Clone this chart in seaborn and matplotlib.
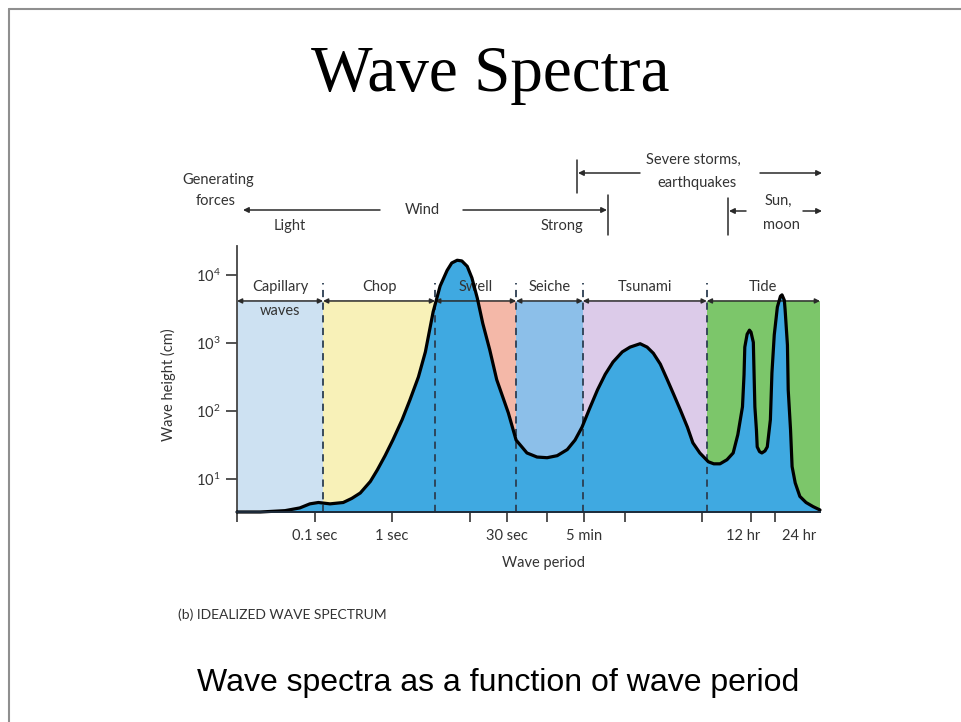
import matplotlib
matplotlib.use('Agg')
import matplotlib.pyplot as plt
import numpy as np
import pandas as pd
import seaborn as sns
from matplotlib.lines import Line2D
from matplotlib.patches import FancyArrowPatch
from matplotlib.ticker import NullLocator

# Idealized spectrum: log10(period, s) and log10(height, cm)
log_period = [-2.00, -1.70, -1.38, -1.19, -1.06, -0.95, -0.80, -0.63, -0.52, -0.41,
              -0.28, -0.19, -0.09, 0.01, 0.13, 0.23, 0.34, 0.43, 0.53, 0.62,
              0.71, 0.77, 0.84, 0.90, 0.97, 1.03, 1.10, 1.17, 1.26, 1.35,
              1.50, 1.60, 1.74, 1.87, 2.00, 2.13, 2.26, 2.36, 2.45, 2.55,
              2.65, 2.75, 2.85, 2.97, 3.07, 3.20, 3.29, 3.37, 3.46, 3.55,
              3.63, 3.72, 3.81, 3.88, 3.97, 4.08, 4.15, 4.23, 4.32, 4.40,
              4.46, 4.52, 4.54, 4.55, 4.58, 4.61, 4.63, 4.66, 4.67, 4.68,
              4.70, 4.71, 4.74, 4.77, 4.81, 4.84, 4.88, 4.90, 4.93, 4.97,
              5.01, 5.03, 5.06, 5.07, 5.10, 5.11, 5.14, 5.16, 5.20, 5.26,
              5.34, 5.43, 5.52]
log_height = [0.51, 0.51, 0.53, 0.57, 0.63, 0.65, 0.63, 0.65, 0.71, 0.79,
              0.96, 1.13, 1.34, 1.57, 1.87, 2.16, 2.50, 2.87, 3.46, 3.84,
              4.07, 4.18, 4.22, 4.21, 4.13, 3.96, 3.66, 3.29, 2.90, 2.46,
              1.97, 1.57, 1.38, 1.32, 1.31, 1.34, 1.43, 1.57, 1.76, 2.04,
              2.31, 2.54, 2.72, 2.87, 2.94, 2.99, 2.94, 2.85, 2.69, 2.46,
              2.25, 2.01, 1.76, 1.53, 1.38, 1.25, 1.22, 1.22, 1.28, 1.38,
              1.65, 2.06, 2.53, 2.94, 3.13, 3.19, 3.16, 3.01, 2.53, 2.06,
              1.72, 1.47, 1.40, 1.38, 1.41, 1.47, 1.87, 2.56, 3.12, 3.53,
              3.69, 3.71, 3.63, 3.49, 2.97, 2.31, 1.72, 1.18, 0.94, 0.74,
              0.65, 0.59, 0.54]

region_names = ['Capillary', 'Chop', 'Swell', 'Seiche', 'Tsunami', 'Tide']
region_edges = [-2.0, -0.89, 0.555, 1.60, 2.46, 4.06, 5.52]
region_colors = ['#cde1f2', '#f8f1b8', '#f4b8a8', '#8cbfe9', '#dccbe9', '#7cc66a']

tick_periods = [0.01, 0.1, 1, 10, 30, 100, 300, 1000, 1e4, 43200, 86400]
tick_labels = ['', '0.1 sec', '1 sec', '', '30 sec', '', '5 min', '', '', '', '']
height_ticks = [10, 100, 1000, 10000]

sns.set_style('white')
plt.rcParams['font.family'] = ['Lato', 'DejaVu Sans']

df = pd.DataFrame({'period': 10 ** np.array(log_period),
                   'height': 10 ** np.array(log_height)})

W, H = 961, 722
fig = plt.figure(figsize=(W / 100, H / 100), dpi=100)
fig.patch.set_facecolor('white')
ax = fig.add_axes([237 / W, 210 / H, 583 / W, 266 / H])
ax.set_xscale('log')
ax.set_yscale('log')
ymin = 10 ** 0.51
ax.set_xlim(10 ** -2, 10 ** 5.52)
ax.set_ylim(ymin, 10 ** 4.43)
ax.set_facecolor('none')

band_top = 10 ** 3.62
txt = '#333333'
for name, col, x0, x1 in zip(region_names, region_colors, region_edges[:-1], region_edges[1:]):
    ax.fill_between([10 ** x0, 10 ** x1], ymin, band_top, color=col, lw=0, zorder=1)
    ax.annotate('', xy=(10 ** x1, band_top), xytext=(10 ** x0, band_top),
                arrowprops=dict(arrowstyle='<|-|>', color='#2a2a2a', lw=1.1,
                                mutation_scale=7, shrinkA=0, shrinkB=0), zorder=5)
    ax.text(10 ** ((x0 + x1) / 2), 10 ** 3.82, name, ha='center', va='center',
            fontsize=10.5, color=txt, zorder=4.5)
ax.text(10 ** ((region_edges[0] + region_edges[1]) / 2), 10 ** 3.47, 'waves',
        ha='center', va='center', fontsize=10.5, color=txt, zorder=4.5)

# blue spectrum
ax.fill_between(df['period'], ymin, df['height'], color='#3fa9e1', lw=0, zorder=3)
ax.vlines([10 ** e for e in region_edges[1:-1]], ymin, 10 ** 3.88,
          colors='#2c3e52', linestyles=(0, (4, 3)), lw=1.3, zorder=4)
sns.lineplot(data=df, x='period', y='height', color='black', lw=2.3,
             estimator=None, sort=False, ax=ax, zorder=6)
curve = ax.lines[-1]
curve.set_clip_on(False)
curve.set_solid_joinstyle('round')
curve.set_solid_capstyle('round')

ax.xaxis.set_minor_locator(NullLocator())
ax.yaxis.set_minor_locator(NullLocator())
ax.set_xticks(tick_periods, tick_labels)
ax.set_yticks(height_ticks)
ax.tick_params(axis='x', direction='out', length=7, width=1.3, color='#444',
               labelsize=10.5, labelcolor=txt, pad=5, bottom=True)
ax.tick_params(axis='y', direction='out', length=8, width=1.3, color='#444',
               labelsize=10.5, labelcolor=txt, pad=4, left=True)
for lab, per, off, ha in [('12 hr', 43200, 6, 'right'), ('24 hr', 86400, 5, 'left')]:
    ax.annotate(lab, xy=(per, 0), xycoords=('data', 'axes fraction'),
                xytext=(off, -12), textcoords='offset points', ha=ha, va='top',
                fontsize=10.5, color=txt, annotation_clip=False)
for s in ['top', 'right']:
    ax.spines[s].set_visible(False)
ax.spines['left'].set_color('#444')
ax.spines['left'].set_linewidth(1.3)
ax.spines['bottom'].set_color('#1d2b3a')
ax.spines['bottom'].set_linewidth(1.4)
ax.spines['bottom'].set_zorder(7)

ax.set_xlabel('Wave period', fontsize=10.5, color=txt)
ax.set_ylabel('Wave height (cm)', fontsize=10.5, color=txt)
ax.xaxis.set_label_coords((543 - 237) / 583, (722 - 556 - 210) / 266)
ax.yaxis.set_label_coords((176 - 237) / 583, 0.48)


def fx(x, y):
    return x / W, 1 - y / H


def ftext(x, y, s, size=10.5, **kw):
    fig.text(*fx(x, y), s, ha='center', va='center', fontsize=size, color=txt, **kw)


def farrow(x0, y0, x1, y1):
    fig.add_artist(FancyArrowPatch(fx(x0, y0), fx(x1, y1), transform=fig.transFigure,
                                   arrowstyle='-|>', mutation_scale=8, lw=1.1,
                                   color='#2a2a2a', shrinkA=0, shrinkB=0))


def fbar(x, y0, y1):
    fig.add_artist(Line2D([x / W, x / W], [1 - y0 / H, 1 - y1 / H],
                          transform=fig.transFigure, color='#2a2a2a', lw=1.1))


# generating forces
ftext(218, 180, 'Generating')
ftext(216, 201, 'forces')
farrow(380, 210, 243, 210)
ftext(290, 226, 'Light')
ftext(422, 210, 'Wind')
farrow(463, 210, 607, 210)
fbar(608, 195, 235)
ftext(562, 226, 'Strong')
fbar(577, 160, 193)
farrow(640, 173, 578, 173)
ftext(693, 160, 'Severe storms,')
ftext(697, 183, 'earthquakes')
farrow(760, 173, 822, 173)
fbar(728, 198, 235)
farrow(746, 211, 729, 211)
ftext(778, 201, 'Sun,')
ftext(781, 225, 'moon')
farrow(803, 211, 822, 211)

# slide text
fig.text(*fx(490, 75), 'Wave Spectra', ha='center', va='center', fontsize=47,
         family=['Liberation Serif', 'DejaVu Serif'], color='black')
fig.text(*fx(178, 615), '(b) IDEALIZED WAVE SPECTRUM', ha='left', va='center',
         fontsize=10, color='#333333')
fig.text(*fx(498, 683), 'Wave spectra as a function of wave period', ha='center',
         va='center', fontsize=23, family=['Liberation Sans', 'DejaVu Sans'], color='black')

# slide frame
fig.add_artist(Line2D([9 / W, 1], [1 - 9 / H, 1 - 9 / H], transform=fig.transFigure,
                      color='#8f8f8f', lw=1.5))
fig.add_artist(Line2D([9 / W, 9 / W], [0, 1 - 9 / H], transform=fig.transFigure,
                      color='#8f8f8f', lw=1.5))

fig.savefig('out.png', dpi=100)
